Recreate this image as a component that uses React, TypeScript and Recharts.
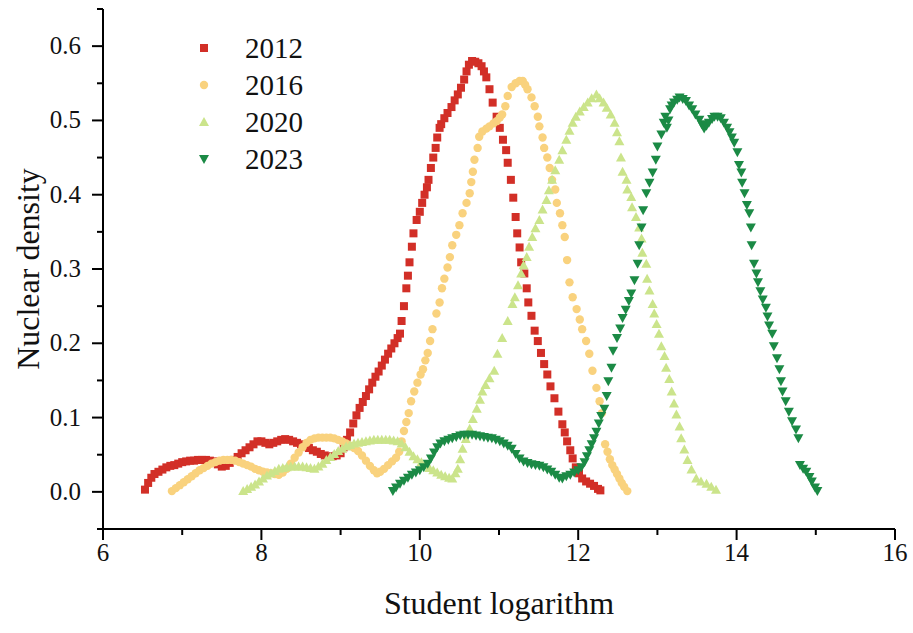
import { ScatterChart, Scatter, XAxis, YAxis } from 'recharts';

// values
const pts2012: [number, number][] = [
  [6.53, 0.003], [6.57, 0.012], [6.61, 0.019], [6.65, 0.024], [6.7, 0.027], [6.75, 0.03], [6.8, 0.033],
  [6.85, 0.035], [6.9, 0.036], [6.95, 0.038], [7.0, 0.04], [7.05, 0.041], [7.1, 0.042], [7.15, 0.042],
  [7.2, 0.043], [7.25, 0.043], [7.3, 0.043], [7.35, 0.042], [7.4, 0.041], [7.45, 0.037], [7.5, 0.034],
  [7.55, 0.035], [7.6, 0.039], [7.65, 0.043], [7.7, 0.047], [7.75, 0.052], [7.8, 0.056], [7.85, 0.06],
  [7.9, 0.064], [7.95, 0.068], [8.0, 0.068], [8.05, 0.066], [8.1, 0.064], [8.15, 0.066], [8.2, 0.068],
  [8.25, 0.07], [8.3, 0.071], [8.35, 0.07], [8.4, 0.068], [8.45, 0.066], [8.5, 0.064], [8.55, 0.062],
  [8.6, 0.059], [8.65, 0.056], [8.7, 0.054], [8.75, 0.051], [8.8, 0.049], [8.85, 0.047], [8.9, 0.048],
  [8.95, 0.049], [9.0, 0.052], [9.04, 0.06], [9.08, 0.07], [9.12, 0.08], [9.16, 0.092], [9.2, 0.103],
  [9.24, 0.113], [9.28, 0.121], [9.32, 0.129], [9.36, 0.138], [9.4, 0.147], [9.44, 0.155], [9.48, 0.162],
  [9.52, 0.17], [9.56, 0.178], [9.6, 0.186], [9.64, 0.193], [9.68, 0.2], [9.72, 0.207], [9.75, 0.213],
  [9.77, 0.23], [9.8, 0.25], [9.83, 0.274], [9.85, 0.291], [9.87, 0.309], [9.9, 0.33], [9.92, 0.348],
  [9.96, 0.366], [10.0, 0.377], [10.03, 0.389], [10.06, 0.4], [10.09, 0.41], [10.11, 0.42], [10.14, 0.436],
  [10.17, 0.45], [10.2, 0.463], [10.22, 0.477], [10.25, 0.49], [10.27, 0.495], [10.31, 0.503], [10.35, 0.51],
  [10.4, 0.518], [10.44, 0.527], [10.48, 0.535], [10.52, 0.544], [10.56, 0.555], [10.59, 0.566], [10.62, 0.575],
  [10.66, 0.58], [10.7, 0.579], [10.74, 0.577], [10.78, 0.573], [10.81, 0.566], [10.84, 0.558], [10.88, 0.542],
  [10.92, 0.524], [10.97, 0.505], [11.01, 0.49], [11.05, 0.474], [11.09, 0.46], [11.11, 0.443], [11.15, 0.42],
  [11.18, 0.396], [11.21, 0.37], [11.23, 0.348], [11.26, 0.329], [11.28, 0.309], [11.32, 0.294], [11.35, 0.274],
  [11.37, 0.255], [11.41, 0.237], [11.45, 0.217], [11.49, 0.203], [11.53, 0.187], [11.57, 0.172], [11.61, 0.158],
  [11.65, 0.142], [11.7, 0.126], [11.75, 0.108], [11.8, 0.091], [11.83, 0.08], [11.86, 0.068], [11.9, 0.056],
  [11.93, 0.045], [11.97, 0.033], [12.01, 0.025], [12.05, 0.018], [12.1, 0.014], [12.15, 0.011], [12.2, 0.008],
  [12.25, 0.004], [12.28, 0.002],
];

const pts2016: [number, number][] = [
  [6.87, 0.001], [6.92, 0.005], [6.97, 0.009], [7.02, 0.013], [7.07, 0.017], [7.12, 0.021], [7.17, 0.025],
  [7.22, 0.029], [7.27, 0.032], [7.32, 0.035], [7.37, 0.038], [7.42, 0.04], [7.47, 0.042], [7.52, 0.043],
  [7.57, 0.043], [7.62, 0.043], [7.67, 0.042], [7.72, 0.04], [7.77, 0.038], [7.82, 0.036], [7.87, 0.034],
  [7.92, 0.031], [7.97, 0.029], [8.02, 0.027], [8.07, 0.026], [8.12, 0.025], [8.17, 0.024], [8.22, 0.023],
  [8.27, 0.026], [8.32, 0.031], [8.37, 0.038], [8.42, 0.046], [8.47, 0.053], [8.52, 0.06], [8.57, 0.066],
  [8.62, 0.07], [8.67, 0.072], [8.72, 0.073], [8.77, 0.073], [8.82, 0.073], [8.87, 0.073], [8.92, 0.072],
  [8.97, 0.07], [9.02, 0.068], [9.07, 0.065], [9.12, 0.062], [9.17, 0.059], [9.22, 0.055], [9.27, 0.049],
  [9.32, 0.042], [9.37, 0.035], [9.42, 0.029], [9.46, 0.025], [9.5, 0.027], [9.55, 0.031], [9.6, 0.036],
  [9.65, 0.041], [9.7, 0.046], [9.74, 0.054], [9.77, 0.068], [9.8, 0.082], [9.83, 0.094], [9.86, 0.106],
  [9.89, 0.122], [9.93, 0.135], [9.97, 0.147], [10.01, 0.158], [10.04, 0.165], [10.07, 0.177], [10.1, 0.187],
  [10.13, 0.203], [10.16, 0.219], [10.21, 0.24], [10.25, 0.255], [10.28, 0.274], [10.31, 0.287], [10.35, 0.302],
  [10.38, 0.316], [10.41, 0.332], [10.46, 0.346], [10.5, 0.359], [10.54, 0.375], [10.59, 0.389], [10.63, 0.402],
  [10.65, 0.417], [10.67, 0.431], [10.69, 0.447], [10.73, 0.463], [10.75, 0.478], [10.79, 0.485], [10.84, 0.489],
  [10.88, 0.492], [10.93, 0.496], [10.97, 0.499], [11.01, 0.504], [11.04, 0.508], [11.08, 0.519], [11.11, 0.533],
  [11.16, 0.545], [11.21, 0.55], [11.26, 0.553], [11.3, 0.553], [11.33, 0.548], [11.36, 0.542], [11.41, 0.531],
  [11.45, 0.519], [11.49, 0.505], [11.51, 0.492], [11.55, 0.477], [11.57, 0.463], [11.61, 0.45], [11.64, 0.436],
  [11.67, 0.42], [11.71, 0.407], [11.73, 0.389], [11.77, 0.375], [11.8, 0.359], [11.83, 0.343], [11.86, 0.312],
  [11.89, 0.282], [11.93, 0.262], [11.98, 0.246], [12.02, 0.232], [12.05, 0.219], [12.1, 0.203], [12.14, 0.186],
  [12.18, 0.163], [12.23, 0.14], [12.27, 0.122], [12.3, 0.106], [12.34, 0.064], [12.37, 0.054], [12.4, 0.044],
  [12.43, 0.036], [12.46, 0.03], [12.49, 0.024], [12.52, 0.018], [12.55, 0.012], [12.58, 0.007], [12.62, 0.001],
];

const pts2020: [number, number][] = [
  [7.77, 0.001], [7.82, 0.004], [7.87, 0.007], [7.92, 0.01], [7.97, 0.014], [8.02, 0.018], [8.07, 0.022],
  [8.12, 0.025], [8.17, 0.028], [8.22, 0.031], [8.27, 0.032], [8.32, 0.033], [8.37, 0.034], [8.42, 0.034],
  [8.47, 0.034], [8.52, 0.034], [8.57, 0.033], [8.62, 0.032], [8.67, 0.031], [8.72, 0.034], [8.77, 0.038],
  [8.82, 0.043], [8.87, 0.047], [8.92, 0.051], [8.97, 0.055], [9.02, 0.058], [9.07, 0.061], [9.12, 0.063],
  [9.17, 0.065], [9.22, 0.066], [9.27, 0.067], [9.32, 0.068], [9.37, 0.069], [9.42, 0.07], [9.47, 0.07],
  [9.52, 0.07], [9.57, 0.07], [9.62, 0.07], [9.67, 0.069], [9.72, 0.068], [9.77, 0.065], [9.82, 0.06],
  [9.87, 0.054], [9.92, 0.048], [9.97, 0.044], [10.02, 0.04], [10.07, 0.036], [10.12, 0.032], [10.17, 0.029],
  [10.22, 0.026], [10.27, 0.023], [10.32, 0.021], [10.37, 0.019], [10.41, 0.018], [10.45, 0.025], [10.48, 0.031],
  [10.51, 0.044], [10.54, 0.058], [10.58, 0.071], [10.63, 0.085], [10.67, 0.098], [10.72, 0.112], [10.76, 0.124],
  [10.79, 0.135], [10.83, 0.144], [10.88, 0.153], [10.94, 0.163], [10.98, 0.186], [11.04, 0.207], [11.11, 0.23],
  [11.17, 0.253], [11.2, 0.262], [11.24, 0.278], [11.28, 0.294], [11.31, 0.305], [11.35, 0.316], [11.38, 0.33],
  [11.42, 0.343], [11.46, 0.355], [11.51, 0.366], [11.55, 0.38], [11.6, 0.393], [11.63, 0.406], [11.67, 0.42],
  [11.71, 0.433], [11.76, 0.447], [11.8, 0.46], [11.85, 0.474], [11.89, 0.486], [11.93, 0.497], [11.97, 0.505],
  [12.02, 0.512], [12.07, 0.518], [12.12, 0.524], [12.17, 0.53], [12.23, 0.535], [12.27, 0.53], [12.32, 0.524],
  [12.36, 0.517], [12.41, 0.508], [12.46, 0.497], [12.49, 0.484], [12.52, 0.472], [12.54, 0.45], [12.56, 0.431],
  [12.61, 0.42], [12.62, 0.407], [12.67, 0.397], [12.68, 0.383], [12.73, 0.37], [12.77, 0.356], [12.8, 0.341],
  [12.81, 0.322], [12.86, 0.307], [12.87, 0.287], [12.9, 0.271], [12.94, 0.253], [12.96, 0.24], [12.99, 0.226],
  [13.02, 0.213], [13.05, 0.196], [13.09, 0.183], [13.11, 0.167], [13.15, 0.152], [13.18, 0.135], [13.21, 0.119],
  [13.24, 0.104], [13.28, 0.088], [13.3, 0.072], [13.34, 0.057], [13.38, 0.043], [13.43, 0.03], [13.49, 0.018],
  [13.55, 0.014], [13.62, 0.011], [13.68, 0.007], [13.74, 0.003],
];

const pts2023: [number, number][] = [
  [9.66, 0.001], [9.7, 0.006], [9.75, 0.011], [9.8, 0.015], [9.85, 0.019], [9.9, 0.023], [9.95, 0.026],
  [10.0, 0.029], [10.05, 0.033], [10.1, 0.038], [10.14, 0.045], [10.18, 0.053], [10.22, 0.06], [10.26, 0.065],
  [10.31, 0.068], [10.36, 0.07], [10.41, 0.072], [10.46, 0.074], [10.51, 0.076], [10.56, 0.077], [10.61, 0.077],
  [10.66, 0.077], [10.71, 0.076], [10.76, 0.075], [10.81, 0.074], [10.86, 0.073], [10.91, 0.072], [10.96, 0.07],
  [11.01, 0.068], [11.06, 0.065], [11.11, 0.062], [11.16, 0.058], [11.21, 0.051], [11.26, 0.045], [11.31, 0.041],
  [11.36, 0.039], [11.41, 0.037], [11.46, 0.036], [11.51, 0.035], [11.56, 0.033], [11.61, 0.03], [11.66, 0.027],
  [11.71, 0.023], [11.76, 0.019], [11.8, 0.018], [11.85, 0.021], [11.9, 0.023], [11.95, 0.026], [12.0, 0.029],
  [12.04, 0.033], [12.08, 0.04], [12.11, 0.048], [12.14, 0.056], [12.17, 0.064], [12.2, 0.072], [12.23, 0.081],
  [12.26, 0.092], [12.29, 0.102], [12.33, 0.112], [12.36, 0.129], [12.38, 0.149], [12.42, 0.167], [12.44, 0.19],
  [12.49, 0.207], [12.53, 0.22], [12.56, 0.234], [12.6, 0.245], [12.64, 0.257], [12.67, 0.267], [12.71, 0.285],
  [12.75, 0.307], [12.77, 0.332], [12.8, 0.356], [12.82, 0.379], [12.86, 0.402], [12.9, 0.416], [12.94, 0.43],
  [12.98, 0.447], [13.0, 0.465], [13.05, 0.481], [13.08, 0.497], [13.1, 0.505], [13.12, 0.49], [13.14, 0.5],
  [13.16, 0.515], [13.18, 0.52], [13.21, 0.524], [13.25, 0.528], [13.28, 0.531], [13.32, 0.529], [13.36, 0.526],
  [13.4, 0.52], [13.44, 0.515], [13.48, 0.508], [13.53, 0.501], [13.56, 0.495], [13.59, 0.489], [13.62, 0.493],
  [13.65, 0.497], [13.69, 0.502], [13.72, 0.505], [13.76, 0.505], [13.8, 0.503], [13.84, 0.497], [13.88, 0.49],
  [13.91, 0.484], [13.94, 0.477], [13.97, 0.47], [14.01, 0.457], [14.03, 0.44], [14.06, 0.43], [14.07, 0.416],
  [14.1, 0.402], [14.13, 0.386], [14.16, 0.375], [14.18, 0.356], [14.19, 0.332], [14.22, 0.307], [14.25, 0.294],
  [14.27, 0.282], [14.3, 0.27], [14.33, 0.259], [14.37, 0.248], [14.39, 0.236], [14.41, 0.224], [14.45, 0.213],
  [14.47, 0.196], [14.51, 0.18], [14.54, 0.165], [14.56, 0.149], [14.58, 0.135], [14.62, 0.122], [14.66, 0.108],
  [14.7, 0.095], [14.75, 0.084], [14.78, 0.072], [14.8, 0.036], [14.84, 0.031], [14.88, 0.027], [14.92, 0.02],
  [14.95, 0.014], [14.99, 0.006], [15.02, 0.001],
];

const xTicks = [6, 7, 8, 9, 10, 11, 12, 13, 14, 15, 16];
const yTicks = [-0.05, 0, 0.05, 0.1, 0.15, 0.2, 0.25, 0.3, 0.35, 0.4, 0.45, 0.5, 0.55, 0.6, 0.65];

const RED = '#d22f27';
const YELLOW = '#f9d27e';
const LIGHT = '#cbe48b';
const DARK = '#1b8a45';

const FONT = '"Liberation Serif", "Times New Roman", serif';

const toObj = (pts: [number, number][]) => pts.map(([x, y]) => ({ x, y }));

const Square = (p: any) => <rect x={p.cx - 4} y={p.cy - 4} width={8} height={8} fill={RED} />;
const Dot = (p: any) => <circle cx={p.cx} cy={p.cy} r={4.2} fill={YELLOW} />;
const TriUp = (p: any) => (
  <polygon points={`${p.cx},${p.cy - 5} ${p.cx - 5},${p.cy + 4} ${p.cx + 5},${p.cy + 4}`} fill={LIGHT} />
);
const TriDown = (p: any) => (
  <polygon points={`${p.cx - 5},${p.cy - 4} ${p.cx + 5},${p.cy - 4} ${p.cx},${p.cy + 5}`} fill={DARK} />
);

const isMajorY = (v: number) => Math.abs(v * 10 - Math.round(v * 10)) < 1e-6;

const YTick = ({ x, y, payload }: any) => {
  const v = payload.value;
  if (!isMajorY(v)) return <line x1={x - 6} x2={x} y1={y} y2={y} stroke="#000" strokeWidth={2} />;
  return (
    <g>
      <line x1={x - 11} x2={x} y1={y} y2={y} stroke="#000" strokeWidth={2} />
      <text x={x - 22} y={y + 8} textAnchor="end" fontSize={25} fontFamily={FONT} fill="#111">
        {v.toFixed(1)}
      </text>
    </g>
  );
};

const XTick = ({ x, y, payload }: any) => {
  const v = payload.value;
  if (v % 2 !== 0) return <line x1={x} x2={x} y1={y} y2={y + 6} stroke="#000" strokeWidth={2} />;
  return (
    <g>
      <line x1={x} x2={x} y1={y} y2={y + 11} stroke="#000" strokeWidth={2} />
      <text x={x} y={y + 32} textAnchor="middle" fontSize={25} fontFamily={FONT} fill="#111">
        {v}
      </text>
    </g>
  );
};

const legendRows = [
  { name: '2012', Shape: Square },
  { name: '2016', Shape: Dot },
  { name: '2020', Shape: TriUp },
  { name: '2023', Shape: TriDown },
];

export default function App() {
  return (
    <div style={{ padding: '8px 0 0 8px', width: 905, height: 617 }}>
      <style>{'html,body{margin:0;overflow:hidden}'}</style>
      <div style={{ position: 'relative', width: 905, height: 617 }}>
        <ScatterChart width={905} height={617} margin={{ top: 1, right: 18, bottom: 0, left: 0 }}>
          <XAxis
            type="number"
            dataKey="x"
            domain={[6, 16]}
            ticks={xTicks}
            interval={0}
            height={96}
            tickSize={0}
            tickMargin={0}
            tickLine={false}
            tick={<XTick />}
            axisLine={{ stroke: '#000', strokeWidth: 2 }}
            label={{ value: 'Student logarithm', position: 'insideBottom', offset: 11, fontSize: 32, fontFamily: FONT, fill: '#111' }}
          />
          <YAxis
            type="number"
            dataKey="y"
            domain={[-0.05, 0.65]}
            ticks={yTicks}
            interval={0}
            width={95}
            tickSize={0}
            tickMargin={0}
            tickLine={false}
            tick={<YTick />}
            axisLine={{ stroke: '#000', strokeWidth: 2 }}
            label={{
              content: ({ viewBox }: any) => {
                const cy = viewBox.y + viewBox.height / 2;
                return (
                  <text x={20} y={cy} transform={`rotate(-90, 20, ${cy})`} textAnchor="middle" dominantBaseline="central"
                    fontSize={32} fontFamily={FONT} fill="#111">
                    Nuclear density
                  </text>
                );
              },
            }}
          />
          <Scatter data={toObj(pts2012)} shape={Square} isAnimationActive={false} />
          <Scatter data={toObj(pts2016)} shape={Dot} isAnimationActive={false} />
          <Scatter data={toObj(pts2020)} shape={TriUp} isAnimationActive={false} />
          <Scatter data={toObj(pts2023)} shape={TriDown} isAnimationActive={false} />
        </ScatterChart>
        <svg style={{ position: 'absolute', left: 170, top: 20 }} width={160} height={160}>
          {legendRows.map((r, i) => {
            const cy = 20 + i * 37;
            return (
              <g key={r.name}>
                <r.Shape cx={26} cy={cy} />
                <text x={67} y={cy + 10} fontSize={29} fontFamily={FONT} fill="#111">
                  {r.name}
                </text>
              </g>
            );
          })}
        </svg>
      </div>
    </div>
  );
}
